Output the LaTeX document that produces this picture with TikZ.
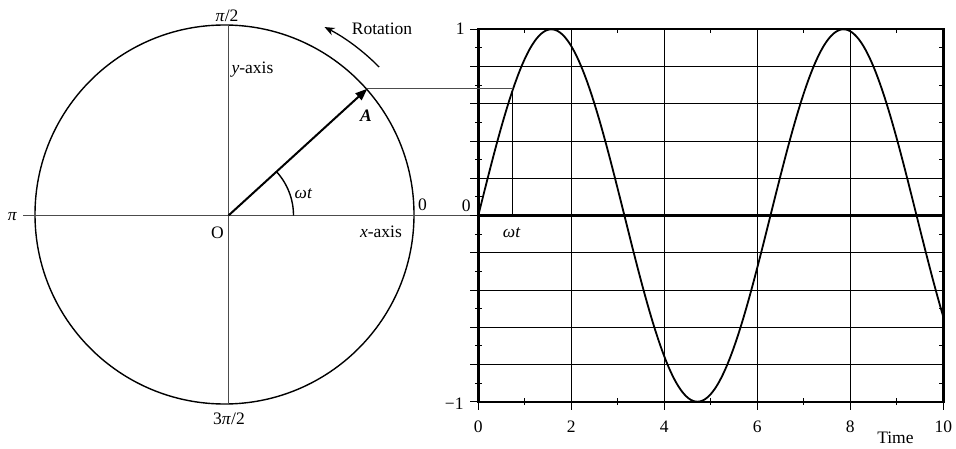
\documentclass[tikz,border=0pt]{standalone}
\usepackage{fontspec}
\setmainfont{Liberation Serif}
\usetikzlibrary{arrows.meta, calc}

\tikzset{
  axisline/.style={black!70, line width=1.1pt},
  gridline/.style={black, line width=0.9pt},
  tickline/.style={black, line width=1pt},
  frameline/.style={black, line width=2.4pt},
  circleline/.style={black, line width=1.4pt},
  phasor/.style={black, line width=2pt, -{Triangle[length=12pt,width=9pt]}},
  rotarrow/.style={black, line width=1.3pt, -{Stealth[length=10pt,width=8pt]}},
  curve/.style={black, line width=1.8pt},
  lbl/.style={inner sep=0pt},
}

\begin{document}
\begin{tikzpicture}[x=1pt, y=1pt, font=\fontsize{17.5}{20}\selectfont]
  \useasboundingbox (0,0) rectangle (956,448);
  % phasor circle
  \coordinate (O) at (228.5,232.5);
  \coordinate (C) at (224.5,233.5);
  \coordinate (G) at (478.3,232.5);
  \coordinate (W) at (23,232.5);
  \coordinate (N) at (228.5,423);
  \coordinate (S) at (228.5,44);
  \coordinate (A) at ($(O)+(42.4:188)$);
  \draw[circleline] (C) circle[radius=189.5];
  \draw[axisline] (W) -- (G);
  \draw[axisline] (N) -- (S);
  \draw[phasor] (O) -- (A);
  \draw[circleline] ($(O)+(65,0)$) arc[start angle=0, end angle=42.4, radius=65];
  \draw[rotarrow] ($(O)+(44.6:211.5)$) arc[start angle=44.6, end angle=63, radius=211.5];
  \node[lbl] (halfpi) at (227,432) {\textit{π}/2};
  \node[lbl] (threehalfpi) at (229,29) {3\textit{π}/2};
  \node[lbl] (pi) at (12.5,231) {\textit{π}};
  \node[lbl] (zero) at (422.5,243.5) {0};
  \node[lbl] (origin) at (217.5,215.5) {O};
  \node[lbl] (xaxis) at (381,216.5) {\textit{x}-axis};
  \node[lbl] (yaxis) at (252.5,378) {\textit{y}-axis};
  \node[lbl] (alabel) at (366,332.5) {\textbf{\textit{A}}};
  \node[lbl] (angle) at (303.5,254) {\textit{ωt}};
  \node[lbl] (rotation) at (382,419.5) {Rotation};
  % sine graph
  \begin{scope}[shift={(G)}, x=46.5pt, y=186.2pt]
    \foreach \y in {-0.8,-0.6,...,0.9}
      \draw[gridline] ([xshift=-8pt]0,\y) -- (10,\y);
    \foreach \y in {-0.9,-0.7,...,0.95} {
      \draw[tickline] ([xshift=-3pt]0,\y) -- ([xshift=4pt]0,\y);
      \draw[tickline] (10,\y) -- ([xshift=-4pt]10,\y);
    }
    \foreach \x in {0,2,...,10} {
      \draw[gridline] ([yshift=-8pt]\x,-1) -- (\x,1);
      \node[lbl] (tx\x) at ([yshift=-25pt]\x,-1) {\x};
    }
    \foreach \x in {1,3,...,9} {
      \draw[tickline] ([yshift=-3pt]\x,-1) -- ([yshift=4pt]\x,-1);
      \draw[tickline] (\x,1) -- ([yshift=-4pt]\x,1);
    }
    \draw[gridline] ([xshift=-8pt]0,1) -- (0,1);
    \draw[gridline] ([xshift=-8pt]0,-1) -- (0,-1);
    \draw[frameline] (0,-1) rectangle (10,1);
    \draw[frameline] (0,0) -- (10,0);
    \draw[curve] plot[domain=0:10, samples=200, smooth] (\x,{sin(\x r)});
    \coordinate (P) at (0.74,{sin(0.74 r)});
    \coordinate (Pb) at (0.74,0);
    \node[lbl] (one) at ([xshift=-18pt,yshift=1pt]0,1) {1};
    \node[lbl] (gzero) at ([xshift=-12pt,yshift=9.5pt]0,0) {0};
    \node[lbl] (minusone) at ([xshift=-24pt,yshift=-2.5pt]0,-1) {−1};
    \node[lbl] (time) at ([yshift=-36pt]8.97,-1) {Time};
  \end{scope}
  \draw[axisline] (A) -- (A -| P);
  \draw[gridline] (A -| P) -- (Pb);
  \node[lbl] (gangle) at ([xshift=-1pt,yshift=-17.5pt]Pb) {\textit{ωt}};
\end{tikzpicture}
\end{document}
